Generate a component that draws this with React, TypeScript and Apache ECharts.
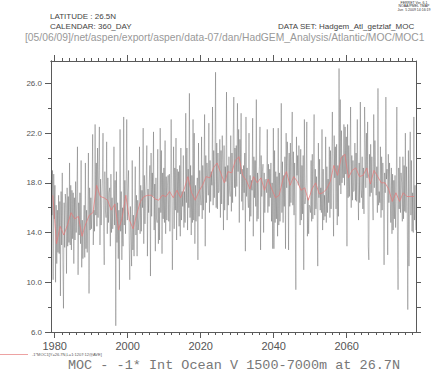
import React, { useEffect, useRef } from "react";
import * as echarts from "echarts";

const START_YEAR = 1979;
const END_YEAR = 2079;
const X_LABELS = [1980, 2000, 2020, 2040, 2060];
const Y_LABELS = [6, 10, 14, 18, 22, 26];
const Y_MINOR = [8, 12, 16, 20, 24];
const Y_ALL = [6, 8, 10, 12, 14, 16, 18, 20, 22, 24, 26];

// annual mean (red), 1979..2078
const ANNUAL = [
  17.0, 13.1, 14.5, 13.8, 14.6, 15.6, 15.1, 15.3, 13.7, 14.7,
  15.4, 15.6, 17.8, 16.9, 16.8, 16.6, 15.8, 16.3, 14.2, 15.2,
  17.0, 15.0, 14.3, 15.5, 16.5, 16.9, 17.0, 17.0, 16.7, 16.6,
  17.0, 16.9, 17.3, 16.8, 17.4, 16.8, 17.5, 18.5, 17.2, 16.6,
  17.3, 17.8, 18.5, 18.4, 19.2, 19.6, 18.8, 18.0, 18.9, 18.8,
  19.8, 20.1, 18.6, 18.2, 17.5, 18.5, 18.0, 18.4, 17.4, 18.3,
  17.5, 16.8, 17.0, 18.2, 18.9, 17.8, 18.5, 18.1, 17.4, 17.6,
  16.6, 17.5, 18.0, 17.1, 17.2, 17.5, 18.1, 19.4, 18.6, 20.0,
  20.3, 18.4, 19.0, 19.2, 18.5, 18.6, 19.2, 17.9, 19.0, 18.5,
  18.0, 18.0, 17.5, 16.5, 17.2, 16.5, 17.2, 16.9, 16.9, 16.9,
];

// sub-annual values (grey), six per year, 1979..2078
const MONTHLY = [
  [18.2, 15.4, 19.0, 10.2, 18.7, 15.1],
  [17.8, 10.0, 16.2, 11.5, 15.8, 12.4],
  [17.0, 12.3, 16.5, 8.9, 17.3, 13.0],
  [18.8, 11.6, 7.9, 16.4, 12.8, 17.1],
  [16.3, 10.7, 17.6, 12.9, 16.9, 13.2],
  [19.6, 13.0, 17.8, 12.6, 17.4, 13.5],
  [17.2, 11.5, 16.8, 13.4, 18.1, 14.0],
  [16.9, 20.9, 10.6, 16.4, 13.8, 17.2],
  [13.1, 19.8, 11.2, 15.0, 11.9, 14.6],
  [16.2, 12.0, 19.6, 12.7, 15.8, 12.4],
  [15.1, 20.4, 9.1, 17.6, 14.2, 16.8],
  [14.3, 17.1, 21.9, 13.0, 15.8, 14.1],
  [22.7, 15.4, 19.6, 14.5, 20.8, 15.2],
  [19.0, 22.5, 13.0, 18.3, 14.6, 16.8],
  [18.2, 22.0, 14.1, 11.4, 18.9, 15.8],
  [15.2, 21.3, 13.9, 18.4, 14.8, 17.2],
  [17.6, 12.9, 18.7, 14.0, 16.8, 14.3],
  [16.1, 20.9, 14.6, 18.2, 6.5, 18.9],
  [13.2, 16.4, 11.9, 15.8, 9.4, 22.3],
  [14.1, 17.3, 11.8, 16.0, 12.9, 23.3],
  [14.6, 18.2, 13.9, 17.6, 23.1, 15.0],
  [17.3, 19.0, 13.4, 10.2, 16.1, 14.0],
  [11.3, 19.8, 12.6, 15.4, 12.1, 15.9],
  [19.3, 13.8, 17.0, 12.1, 16.6, 14.2],
  [15.2, 20.9, 13.9, 17.8, 14.1, 17.4],
  [16.0, 22.4, 13.1, 18.6, 14.7, 17.0],
  [18.2, 21.0, 12.1, 17.5, 15.6, 18.0],
  [19.4, 10.5, 20.4, 15.3, 18.8, 16.9],
  [22.1, 14.2, 17.9, 12.5, 18.4, 15.1],
  [14.8, 20.7, 13.1, 16.0, 13.4, 22.4],
  [15.6, 20.6, 12.3, 18.8, 15.1, 19.2],
  [14.8, 21.4, 13.9, 18.5, 15.0, 17.8],
  [18.6, 14.9, 18.7, 14.1, 16.9, 23.1],
  [17.4, 11.0, 16.2, 20.9, 14.3, 19.2],
  [15.8, 21.6, 13.4, 19.1, 15.6, 18.9],
  [14.5, 19.4, 13.7, 20.8, 15.0, 17.3],
  [16.1, 20.2, 14.4, 17.3, 14.8, 23.6],
  [16.4, 20.8, 14.2, 19.1, 16.0, 25.2],
  [15.2, 19.4, 13.8, 18.6, 14.8, 23.1],
  [15.0, 22.0, 13.1, 17.8, 14.9, 17.2],
  [18.4, 11.8, 21.2, 15.3, 19.0, 17.1],
  [16.2, 21.7, 15.1, 19.4, 15.8, 18.8],
  [23.5, 12.9, 20.2, 16.4, 19.6, 18.3],
  [17.0, 22.8, 15.6, 19.8, 16.5, 18.9],
  [17.8, 24.1, 16.2, 20.6, 16.8, 19.5],
  [26.9, 16.0, 21.2, 15.9, 20.4, 17.2],
  [17.4, 21.5, 15.2, 20.6, 16.3, 21.8],
  [19.6, 14.2, 21.0, 15.8, 19.3, 18.1],
  [25.3, 15.0, 19.4, 16.2, 20.1, 17.4],
  [16.9, 21.8, 15.7, 20.4, 16.4, 21.6],
  [24.9, 17.6, 20.8, 16.9, 21.0, 17.7],
  [24.4, 18.9, 22.3, 14.8, 21.5, 18.7],
  [23.6, 16.5, 19.1, 15.8, 19.4, 17.2],
  [20.4, 12.5, 23.3, 16.9, 19.2, 16.8],
  [16.0, 22.0, 14.9, 18.6, 15.3, 18.2],
  [17.4, 23.2, 13.7, 20.1, 16.8, 19.8],
  [16.1, 24.7, 14.9, 18.8, 15.1, 18.4],
  [19.3, 22.5, 12.6, 20.2, 16.9, 18.9],
  [19.5, 14.0, 18.8, 15.6, 18.2, 18.3],
  [17.2, 22.3, 15.6, 19.5, 16.1, 19.1],
  [16.8, 19.6, 14.9, 18.0, 12.7, 22.4],
  [12.7, 20.6, 14.8, 18.9, 15.1, 18.5],
  [13.7, 22.4, 14.6, 18.8, 14.9, 17.6],
  [24.4, 15.6, 19.7, 14.8, 18.6, 16.1],
  [20.1, 12.7, 22.0, 17.6, 21.3, 19.7],
  [12.6, 20.4, 16.1, 21.2, 16.4, 20.1],
  [23.7, 16.2, 20.5, 15.4, 19.6, 15.6],
  [9.4, 21.7, 18.6, 20.2, 17.8, 21.0],
  [19.2, 14.6, 20.7, 15.0, 19.4, 15.5],
  [20.2, 11.0, 23.1, 16.3, 16.8, 18.2],
  [22.9, 13.7, 16.8, 13.9, 16.2, 16.1],
  [15.6, 19.8, 14.9, 20.3, 15.1, 19.3],
  [23.5, 15.4, 19.1, 15.9, 18.5, 15.6],
  [11.3, 21.2, 16.8, 19.9, 15.8, 17.6],
  [15.6, 22.3, 14.2, 19.1, 15.0, 17.0],
  [15.3, 21.7, 14.8, 19.3, 15.6, 18.3],
  [16.4, 20.9, 15.2, 20.6, 15.9, 19.6],
  [23.7, 17.9, 13.7, 21.8, 18.4, 20.9],
  [15.9, 21.1, 14.6, 19.4, 15.3, 27.2],
  [17.8, 24.7, 17.1, 22.2, 18.0, 20.2],
  [18.4, 22.7, 17.8, 22.5, 18.7, 21.7],
  [12.9, 22.7, 16.8, 21.0, 16.9, 20.1],
  [24.1, 16.0, 20.2, 16.6, 19.8, 17.3],
  [17.4, 21.2, 16.6, 20.4, 16.5, 23.1],
  [18.0, 15.0, 19.6, 16.4, 24.5, 17.5],
  [16.8, 20.1, 15.9, 19.2, 15.5, 24.1],
  [21.4, 17.6, 22.0, 18.4, 22.9, 12.9],
  [11.8, 20.3, 16.9, 21.1, 17.2, 20.1],
  [17.3, 15.0, 23.5, 17.6, 21.4, 19.2],
  [17.0, 19.3, 15.6, 25.6, 16.2, 17.3],
  [16.4, 20.9, 15.2, 20.1, 15.8, 19.6],
  [17.4, 11.4, 18.8, 17.2, 24.9, 18.3],
  [19.1, 12.2, 20.3, 16.4, 19.6, 17.4],
  [14.8, 19.2, 13.9, 18.7, 14.2, 18.2],
  [15.1, 18.6, 14.4, 16.9, 24.1, 14.1],
  [9.4, 19.2, 15.9, 20.1, 15.6, 18.8],
  [18.0, 14.9, 20.1, 15.1, 19.4, 15.7],
  [22.0, 15.6, 19.3, 16.1, 7.8, 20.6],
  [11.3, 18.7, 22.1, 15.4, 19.8, 14.1],
  [17.2, 14.0, 23.3, 15.0, 17.8, 14.2],
];

const TITLE = "MOC - -1* Int Ocean V 1500-7000m at 26.7N";
const PATH_TEXT = "[05/06/09]/net/aspen/export/aspen/data-07/dan/HadGEM_Analysis/Atlantic/MOC/MOC1";
const LEGEND_TEXT = "-1*MOC1[Y=26.7N,L=1:1207:12@AVE]";

const AXIS_COLOR = "#5a5a5a";
const SANS = '"Liberation Sans", Arial, sans-serif';

export default function App() {
  const ref = useRef<HTMLDivElement>(null);
  useEffect(() => {
    document.body.style.margin = "0";
    const chart = echarts.init(ref.current!, null, { renderer: "svg" });

    const grey: number[][] = [];
    MONTHLY.forEach((row, i) => {
      row.forEach((v, k) => {
        grey.push([START_YEAR + i + (k + 0.5) / row.length, v]);
      });
    });
    const red = ANNUAL.map((v, i) => [START_YEAR + i + 0.5, v]);

    const evenYears: number[] = [];
    for (let y = 1980; y < END_YEAR; y += 2) evenYears.push(y);

    const yMin = 6;
    const yMax = 27.8;

    const baseX = (extra: any) => ({
      type: "value",
      min: START_YEAR,
      max: END_YEAR,
      splitLine: { show: false },
      axisLine: { show: true, lineStyle: { color: AXIS_COLOR, width: 1 } },
      ...extra,
    });
    const baseY = (extra: any) => ({
      type: "value",
      min: yMin,
      max: yMax,
      splitLine: { show: false },
      axisLine: { show: true, lineStyle: { color: AXIS_COLOR, width: 1 } },
      ...extra,
    });

    chart.setOption({
      animation: false,
      backgroundColor: "#ffffff",
      grid: { left: 51, right: 26, top: 61, bottom: 41, containLabel: false },
      xAxis: [
        baseX({
          position: "bottom",
          axisTick: { show: true, customValues: X_LABELS, length: 6, lineStyle: { color: AXIS_COLOR } },
          axisLabel: {
            show: true,
            customValues: X_LABELS,
            formatter: (v: number) => String(Math.round(v)),
            fontSize: 11,
            fontFamily: SANS,
            color: "#555",
            margin: 8,
          },
        }),
        baseX({
          position: "bottom",
          axisTick: { show: true, customValues: evenYears, length: 3, lineStyle: { color: AXIS_COLOR } },
          axisLabel: { show: false },
        }),
        baseX({
          position: "top",
          axisTick: { show: true, customValues: X_LABELS, length: 6, lineStyle: { color: AXIS_COLOR } },
          axisLabel: { show: false },
        }),
        baseX({
          position: "top",
          axisTick: { show: true, customValues: evenYears, length: 3, lineStyle: { color: AXIS_COLOR } },
          axisLabel: { show: false },
        }),
      ],
      yAxis: [
        baseY({
          position: "left",
          axisTick: { show: true, customValues: Y_LABELS, length: 6, lineStyle: { color: AXIS_COLOR } },
          axisLabel: {
            show: true,
            customValues: Y_LABELS,
            formatter: (v: number) => v.toFixed(1),
            fontSize: 8,
            fontFamily: SANS,
            color: "#555",
            margin: 9,
          },
        }),
        baseY({
          position: "left",
          axisTick: { show: true, customValues: Y_MINOR, length: 3, lineStyle: { color: AXIS_COLOR } },
          axisLabel: { show: false },
        }),
        baseY({
          position: "right",
          axisTick: { show: true, customValues: Y_ALL, length: 5, lineStyle: { color: AXIS_COLOR } },
          axisLabel: { show: false },
        }),
      ],
      series: [
        {
          type: "line",
          xAxisIndex: 0,
          yAxisIndex: 0,
          data: grey,
          symbol: "none",
          showSymbol: false,
          silent: true,
          lineStyle: { color: "#222222", width: 0.5, opacity: 0.55 },
          z: 2,
        },
        {
          type: "line",
          xAxisIndex: 0,
          yAxisIndex: 0,
          data: red,
          symbol: "none",
          showSymbol: false,
          silent: true,
          lineStyle: { color: "#e87878", width: 0.8, opacity: 0.9 },
          z: 3,
        },
      ],
      graphic: [
        { type: "text", x: 414, y: 3, style: { text: "FERRET Ver. 6.1", fill: "#333", font: `3.5px ${SANS}`, textAlign: "center", textVerticalAlign: "middle" } },
        { type: "text", x: 414, y: 6.3, style: { text: "NOAA/PMEL TMAP", fill: "#333", font: `3.5px ${SANS}`, textAlign: "center", textVerticalAlign: "middle" } },
        { type: "text", x: 414, y: 9.6, style: { text: "Jun  5 2009 14:16:19", fill: "#333", font: `3.5px ${SANS}`, textAlign: "center", textVerticalAlign: "middle" } },
        { type: "text", x: 50, y: 16, style: { text: "LATITUDE : 26.5N", fill: "#444", font: `8px ${SANS}`, textAlign: "left", textVerticalAlign: "middle" } },
        { type: "text", x: 50, y: 26, style: { text: "CALENDAR: 360_DAY", fill: "#444", font: `8px ${SANS}`, textAlign: "left", textVerticalAlign: "middle" } },
        { type: "text", x: 278, y: 26, style: { text: "DATA SET: Hadgem_Atl_getzlaf_MOC", fill: "#444", font: `8px ${SANS}`, textAlign: "left", textVerticalAlign: "middle" } },
        { type: "text", x: 25, y: 37.5, style: { text: PATH_TEXT, fill: "#999", font: `10.3px ${SANS}`, textAlign: "left", textVerticalAlign: "middle" } },
        { type: "line", shape: { x1: 0, y1: 354.5, x2: 28, y2: 354.5 }, style: { stroke: "#e88a8a", lineWidth: 0.8 } },
        { type: "text", x: 32, y: 354, style: { text: LEGEND_TEXT, fill: "#555", font: `4px ${SANS}`, textAlign: "left", textVerticalAlign: "middle" } },
        { type: "text", x: 234, y: 365, style: { text: TITLE, fill: "#777", font: `13.5px "Liberation Mono", monospace`, textAlign: "center", textVerticalAlign: "middle" } },
      ],
    });
    return () => chart.dispose();
  }, []);
  return <div ref={ref} style={{ width: 442, height: 373, position: "absolute", left: 0, top: 0 }} />;
}
